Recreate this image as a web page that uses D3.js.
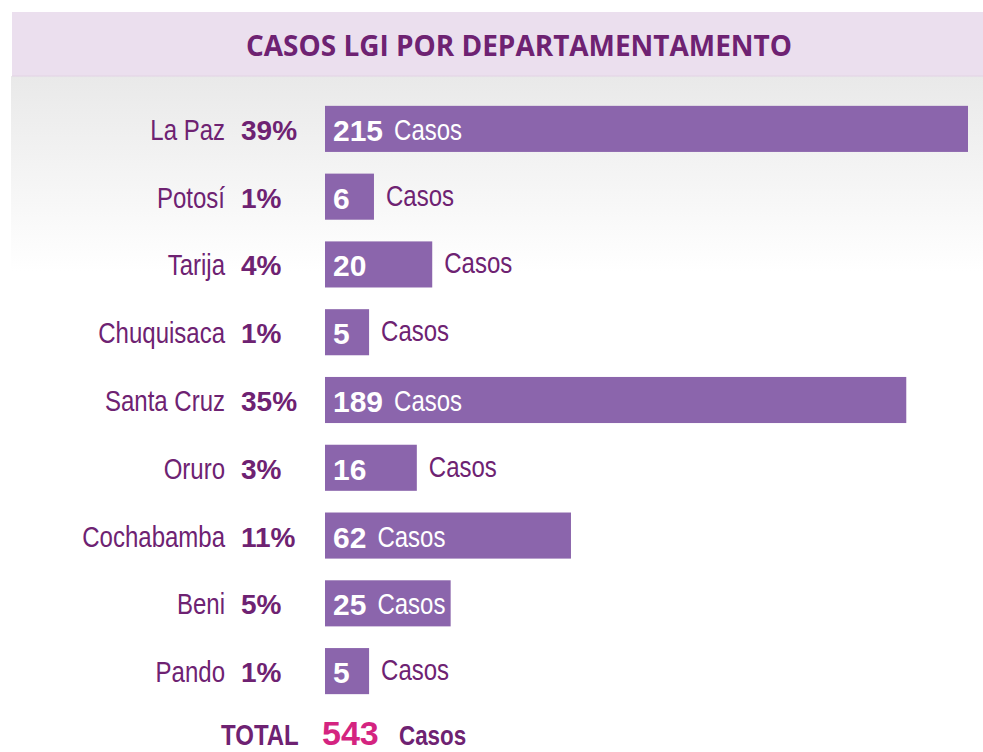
<!DOCTYPE html>
<html>
<head>
<meta charset="utf-8">
<script src="https://cdn.jsdelivr.net/npm/d3@7"></script>
<style>
  html, body { margin: 0; padding: 0; background: #ffffff; }
  svg { display: block; }
</style>
</head>
<body>
<svg id="chart" width="983" height="752"></svg>
<script>
// ---- data ----
const title = "CASOS LGI POR DEPARTAMENTAMENTO";
const categories = ["La Paz", "Potosí", "Tarija", "Chuquisaca", "Santa Cruz", "Oruro", "Cochabamba", "Beni", "Pando"];
const casos = [215, 6, 20, 5, 189, 16, 62, 25, 5];
const percentLabels = ["39%", "1%", "4%", "1%", "35%", "3%", "11%", "5%", "1%"];
const unitLabel = "Casos";
const totalLabel = "TOTAL";

// ---- styles ----
const purpleText = "#6e2272";
const barColor = "#8b65ac";
const pink = "#d42480";
const arial = "'Liberation Sans', Arial, sans-serif";
const condense = 0.8; // horizontal condensing to mimic a narrow face

const svg = d3.select("#chart");
const W = 983;

// narrow text helper: a group scaled horizontally
function narrowText(parent, x, y, opts) {
  const g = parent.append("g").attr("transform", `translate(${x},${y}) scale(${condense},1)`);
  const t = g.append("text")
    .attr("x", 0).attr("y", 0)
    .attr("text-anchor", opts.anchor || "start")
    .attr("font-family", arial)
    .attr("font-weight", opts.weight || "normal")
    .attr("font-size", opts.size)
    .attr("fill", opts.fill)
    .text(opts.text);
  return { g, t, width: () => t.node().getComputedTextLength() * condense };
}

// background: title band + gradient
const defs = svg.append("defs");
const grad = defs.append("linearGradient").attr("id", "bgGrad")
  .attr("x1", 0).attr("y1", 0).attr("x2", 0).attr("y2", 1);
grad.append("stop").attr("offset", "0%").attr("stop-color", "#e9e9e9");
grad.append("stop").attr("offset", "100%").attr("stop-color", "#ffffff");

svg.append("rect").attr("x", 11).attr("y", 76).attr("width", W - 11).attr("height", 196)
  .attr("fill", "url(#bgGrad)");
svg.append("rect").attr("x", 12).attr("y", 12).attr("width", W - 12).attr("height", 64)
  .attr("fill", "#ebdfee");
svg.append("line").attr("x1", 12).attr("x2", W).attr("y1", 76).attr("y2", 76)
  .attr("stroke", "#e2d2e5").attr("stroke-width", 1);

svg.append("text")
  .attr("x", 246).attr("y", 56)
  .attr("textLength", 546).attr("lengthAdjust", "spacingAndGlyphs")
  .attr("font-family", "'Open Sans', 'Noto Sans', sans-serif")
  .attr("font-weight", "bold").attr("font-size", 29)
  .attr("fill", purpleText)
  .text(title);

// ---- scales ----
const data = categories.map((c, i) => ({ cat: c, value: casos[i], pct: percentLabels[i] }));

const y = d3.scaleBand()
  .domain(categories)
  .range([95, 705])
  .paddingInner(0.32)
  .paddingOuter(0.16);

const barX = 325;
const w = d3.scalePow().exponent(0.8)
  .domain([0, d3.max(casos)])
  .range([13, 643]);

const rows = svg.append("g").selectAll("g.row").data(data).join("g")
  .attr("class", "row")
  .attr("transform", d => `translate(0,${y(d.cat) + y.bandwidth() / 2})`);

rows.each(function (d) {
  const g = d3.select(this);

  // category label (narrow, right aligned)
  narrowText(g, 225, 11, { anchor: "end", size: 30, fill: purpleText, text: d.cat });

  // percent label
  g.append("text")
    .attr("x", 241).attr("y", 11)
    .attr("font-family", arial).attr("font-weight", "bold").attr("font-size", 28)
    .attr("fill", purpleText)
    .text(d.pct);

  // bar
  const bw = w(d.value);
  g.append("rect")
    .attr("x", barX)
    .attr("y", -y.bandwidth() / 2)
    .attr("width", bw)
    .attr("height", y.bandwidth())
    .attr("fill", barColor);

  // value label inside bar
  const vt = g.append("text")
    .attr("x", barX + 8).attr("y", 12)
    .attr("font-family", arial).attr("font-weight", "bold").attr("font-size", 30)
    .attr("fill", "#ffffff")
    .text(d.value);
  const valW = vt.node().getComputedTextLength();

  // unit label: inside if it fits, else right after the bar
  const barEnd = barX + bw;
  const insideX = barX + 8 + valW + 11;
  const probe = narrowText(g, 0, 0, { size: 30, fill: "#ffffff", text: unitLabel });
  const cw = probe.width();
  probe.g.remove();
  if (insideX + cw + 4 <= barEnd) {
    narrowText(g, insideX, 11, { size: 30, fill: "#ffffff", text: unitLabel });
  } else {
    narrowText(g, barEnd + 12, 9, { size: 30, fill: purpleText, text: unitLabel });
  }
});

// total row
const totalY = 745;
narrowText(svg, 221, totalY, { weight: "bold", size: 30, fill: purpleText, text: totalLabel });
svg.append("text")
  .attr("x", 322).attr("y", totalY)
  .attr("font-family", arial).attr("font-weight", "bold").attr("font-size", 34)
  .attr("fill", pink)
  .text(d3.sum(casos));
narrowText(svg, 399, totalY, { weight: "bold", size: 28, fill: purpleText, text: unitLabel });
</script>
</body>
</html>
